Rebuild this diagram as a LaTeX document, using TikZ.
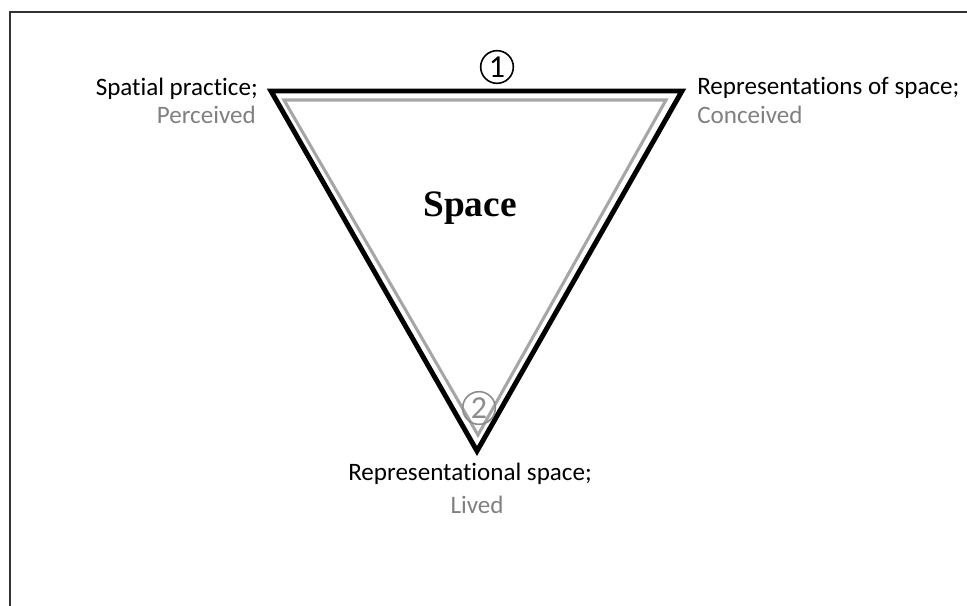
\documentclass[tikz,border=0pt]{standalone}
\usepackage{fontspec}
\setmainfont[Ligatures={NoCommon}]{Carlito}
\newfontfamily\serifbold{Liberation Serif}
\begin{document}
\begin{tikzpicture}[x=0.75pt,y=-0.75pt,
  outer/.style={draw=black,line width=3.7pt,miter limit=20},
  inner/.style={draw=black!35,line width=2.3pt,miter limit=20},
  lbl/.style={font=\fontsize{18.8pt}{23pt}\selectfont,inner sep=0pt},
  sub/.style={lbl,text=black!50},
  num/.style={circle,draw,line width=1.2pt,minimum size=24.5pt,inner sep=0pt,font=\fontsize{24pt}{28pt}\selectfont},
  frame/.style={draw=black!80,line width=1pt}]
\useasboundingbox (0,0) rectangle (967,606);
\draw[frame] (10,606) -- (10,12) -- (967,12);
\coordinate (A) at (271,91);
\coordinate (B) at (682,91);
\coordinate (C) at (477,451);
\coordinate (a) at (284,100);
\coordinate (b) at (666,100);
\coordinate (c) at (478,435);
\draw[outer] (A) -- (B) -- (C) -- cycle;
\draw[inner] (a) -- (b) -- (c) -- cycle;
\node[lbl,anchor=east] (sp) at (258,89) {Spatial practice;};
\node[sub,anchor=east] (pe) at (256,115) {Perceived};
\node[lbl,anchor=west] (rs) at (697,88) {Representations of space;};
\node[sub,anchor=west] (co) at (697,115) {Conceived};
\node[lbl] (rl) at (470,474) {Representational space;};
\node[sub] (li) at (477,505) {Lived};
\node[inner sep=0pt,font=\serifbold\bfseries\fontsize{28pt}{32pt}\selectfont] (sc) at (470,208) {Space};
\node[num] (n1) at (497,67) {1};
\node[num,draw=black!45,text=black!45] (n2) at (479,408) {2};
\end{tikzpicture}
\end{document}
